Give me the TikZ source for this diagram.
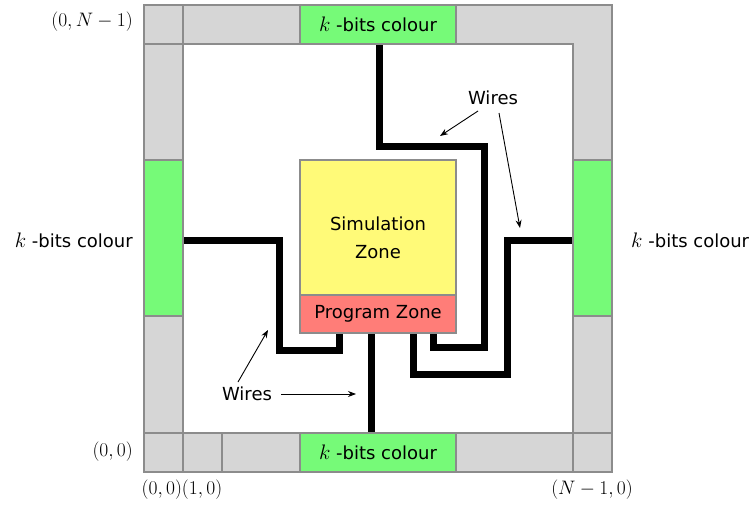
\RequirePackage{fix-cm}
\documentclass[tikz,border=0pt]{standalone}
\usepackage{fontspec}
\setmainfont{DejaVu Sans}
\usetikzlibrary{arrows.meta,backgrounds}
\definecolor{cellgray}{RGB}{214,214,214}
\definecolor{bordergray}{RGB}{140,140,140}
\definecolor{bitgreen}{RGB}{118,250,120}
\definecolor{simyellow}{RGB}{255,250,120}
\definecolor{progred}{RGB}{255,125,120}
\newcommand{\kbits}{{\fontsize{21}{22}\selectfont$k$} -bits colour}
\begin{document}
\begin{tikzpicture}[x=1pt,y=-1pt,
  cell/.style={draw=bordergray, fill=cellgray, line width=1.3pt, inner sep=0pt, outer sep=0pt, anchor=north west},
  greencell/.style={cell, fill=bitgreen},
  zone/.style={cell, font=\fontsize{18}{28}\selectfont, align=center},
  wire/.style={line width=7pt, line join=miter},
  arr/.style={line width=0.9pt, -{Stealth[length=8pt,width=6pt]}},
  lbl/.style={inner sep=0pt, font=\fontsize{18}{22}\selectfont},
  mlbl/.style={inner sep=0pt, font=\fontsize{19.5}{22}\selectfont}]
\useasboundingbox (0,0) rectangle (756,506);
% border cells
\node[cell, minimum width=39pt, minimum height=39pt] (tl) at (144,5) {};
\node[cell, minimum width=117pt, minimum height=39pt] (tgl) at (183,5) {};
\node[greencell, minimum width=156pt, minimum height=39pt, lbl] (tg) at (300,5) {\kbits};
\draw[draw=bordergray, fill=cellgray, line width=1.3pt] (456,5) -- (612,5) -- (612,160) -- (573,160) -- (573,44) -- (456,44) -- cycle;
\node[cell, minimum width=39pt, minimum height=116pt] (lgt) at (144,44) {};
\node[greencell, minimum width=39pt, minimum height=156pt] (lg) at (144,160) {};
\node[cell, minimum width=39pt, minimum height=117pt] (lgb) at (144,316) {};
\node[cell, minimum width=39pt, minimum height=39pt] (bl1) at (144,433) {};
\node[cell, minimum width=39pt, minimum height=39pt] (bl2) at (183,433) {};
\node[cell, minimum width=78pt, minimum height=39pt] (bl3) at (222,433) {};
\node[greencell, minimum width=156pt, minimum height=39pt, lbl] (bg) at (300,433) {\kbits};
\node[cell, minimum width=117pt, minimum height=39pt] (br1) at (456,433) {};
\node[cell, minimum width=39pt, minimum height=39pt] (br2) at (573,433) {};
\node[greencell, minimum width=39pt, minimum height=156pt] (rg) at (573,160) {};
\node[cell, minimum width=39pt, minimum height=117pt] (rgb) at (573,316) {};
% zones
\node[zone, fill=simyellow, minimum width=156pt, minimum height=135pt] (sim) at (300,160) {};
\node[zone, draw=none, fill=none, anchor=center] (simtxt) at (378,238) {Simulation\\Zone};
\node[zone, fill=progred, minimum width=156pt, minimum height=38pt] (pz) at (300,295) {Program Zone};
% wire end points on the program zone
\coordinate (p1) at ([xshift=39pt]pz.south west);
\coordinate (p4) at ([xshift=71pt]pz.south west);
\coordinate (p2) at ([xshift=113pt]pz.south west);
\coordinate (p3) at ([xshift=133pt]pz.south west);
\begin{scope}[on background layer]
\draw[wire] ([xshift=1pt]tg.south) |- (484,146) -- (484,347) -| (p3);
\draw[wire] ([yshift=-2pt]rg.west) -| (507,374) -| (p2);
\draw[wire] ([yshift=-2pt]lg.east) -| (279,350) -| (p1);
\draw[wire] (p4) -- (p4 |- bg.north);
\end{scope}
% labels
\node[mlbl, anchor=east] (c0n) at (133,22) {$(0,N-1)$};
\node[mlbl, anchor=east] (c00) at (133,452) {$(0,0)$};
\node[mlbl] (c0010) at (182,490) {$(0,0)(1,0)$};
\node[mlbl] (cn0) at (592,490) {$(N-1,0)$};
\node[lbl, anchor=east] (kl) at (133,240) {\kbits};
\node[lbl, anchor=west] (kr) at (631,240) {\kbits};
% wire annotations
\node[lbl] (wA) at (493,98) {Wires};
\node[lbl] (wB) at (247,394) {Wires};
\coordinate (a1s) at (478,111);
\coordinate (a1e) at (440,136);
\coordinate (a2s) at (499,113);
\coordinate (a2e) at (520,228);
\coordinate (a3s) at (238,382);
\coordinate (a3e) at (268,330);
\coordinate (a4e) at (356,394);
\draw[arr] (a1s) -- (a1e);
\draw[arr] (a2s) -- (a2e);
\draw[arr] (a3s) -- (a3e);
\draw[arr] ([xshift=9pt]wB.east) -- (a4e);
\end{tikzpicture}
\end{document}
